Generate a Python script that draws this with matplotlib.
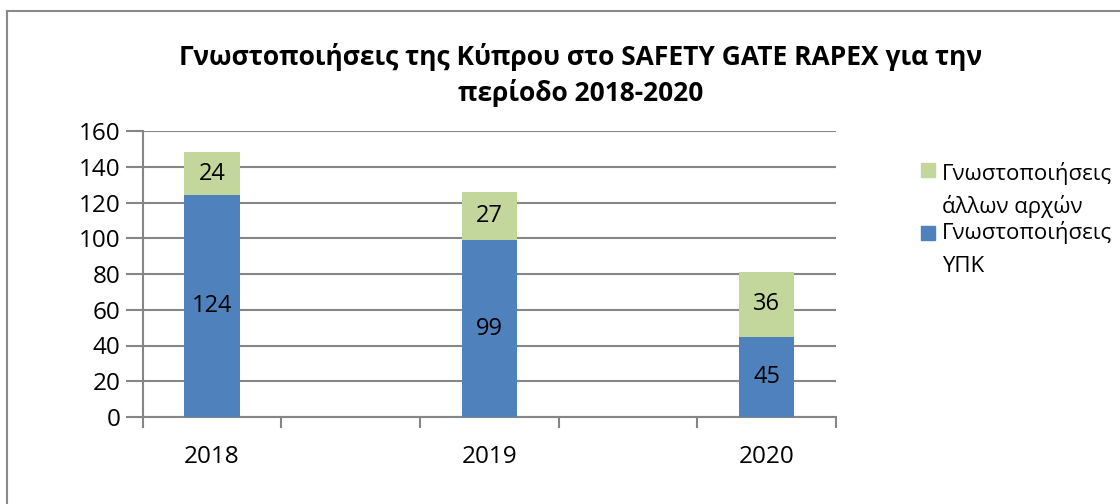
import numpy as np
import matplotlib.pyplot as plt
from matplotlib.lines import Line2D
from matplotlib.patches import Rectangle

plt.rcParams['font.family'] = ['Open Sans', 'DejaVu Sans']

# --- data ---
years = ['2018', '2019', '2020']
ypk = [124, 99, 45]          # Γνωστοποιήσεις ΥΠΚ
others = [24, 27, 36]        # Γνωστοποιήσεις άλλων αρχών
legend_labels = [['Γνωστοποιήσεις', 'άλλων αρχών'], ['Γνωστοποιήσεις', 'ΥΠΚ']]

blue = '#4F81BD'
green = '#C3D69B'
grid_c = '#868686'

W, H = 1120, 504
fig = plt.figure(figsize=(W / 100, H / 100), dpi=100)
ax = fig.add_axes([142.5 / W, 87 / H, (836 - 142.5) / W, 286 / H])

# bars sit in every other slot of a 5-slot category axis
pos = np.arange(len(years)) * 2
w = 0.4
ax.bar(pos, ypk, width=w, color=blue, zorder=3)
ax.bar(pos, others, width=w, bottom=ypk, color=green, zorder=3)

for i in range(len(years)):
    ax.text(pos[i], ypk[i] / 2, str(ypk[i]), ha='center', va='center', fontsize=17, zorder=4)
    ax.text(pos[i], ypk[i] + others[i] / 2, str(others[i]), ha='center', va='center', fontsize=17, zorder=4)

ax.set_xlim(-0.5, 4.5)
ax.set_ylim(0, 160)
ax.set_yticks(np.arange(0, 161, 20))
ax.yaxis.grid(True, color=grid_c, linewidth=1.5, zorder=0)
ax.set_axisbelow(True)

ax.set_xticks(pos)
ax.set_xticklabels(years)
ax.set_xticks(np.arange(-0.5, 4.6, 1), minor=True)
ax.tick_params(axis='x', which='major', length=0, pad=20, labelsize=17.5)
ax.tick_params(axis='x', which='minor', length=8, width=1.5, color=grid_c, direction='out')
ax.tick_params(axis='y', length=12, width=1.5, color=grid_c, labelsize=17.5, pad=4)

for s in ['top', 'right']:
    ax.spines[s].set_visible(False)
for s in ['left', 'bottom']:
    ax.spines[s].set_color(grid_c)
    ax.spines[s].set_linewidth(1.5)

# title, two lines
fig.text(581 / W, 1 - 65 / H, 'Γνωστοποιήσεις της Κύπρου στο SAFETY GATE RAPEX για την',
         ha='center', va='baseline', fontsize=19, fontweight='bold')
fig.text(581 / W, 1 - 101 / H, 'περίοδο 2018-2020',
         ha='center', va='baseline', fontsize=19, fontweight='bold')

# legend drawn by hand (square aligned to the first text line)
leg_colors = [green, blue]
sq_y = [170, 233]
line_y = [[180, 213], [239, 272]]
for c, sy, ly, lab in zip(leg_colors, sq_y, line_y, legend_labels):
    fig.add_artist(Rectangle((921 / W, 1 - (sy + 7) / H), 14 / W, 14 / H,
                             transform=fig.transFigure, color=c))
    for yy, t in zip(ly, lab):
        fig.text(942 / W, 1 - yy / H, t, ha='left', va='baseline', fontsize=16)

# chart border (top and left visible)
fig.add_artist(Line2D([7 / W, 1.0], [1 - 11 / H, 1 - 11 / H], color='#8a8a8a', linewidth=1.5))
fig.add_artist(Line2D([7 / W, 7 / W], [0, 1 - 11 / H], color='#8a8a8a', linewidth=1.5))

fig.savefig('out.png', dpi=100)
